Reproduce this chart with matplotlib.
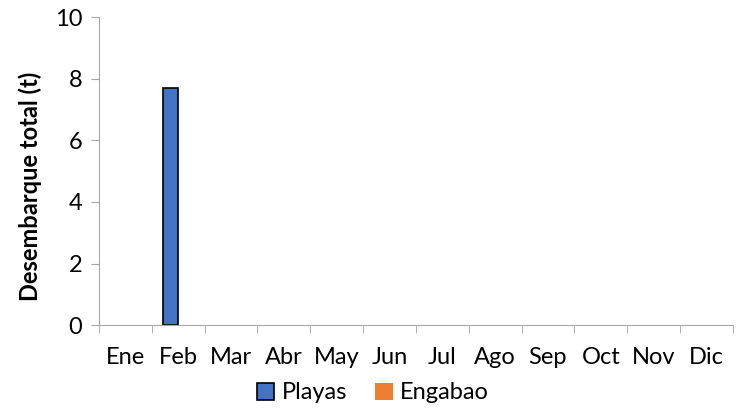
import numpy as np
import matplotlib.pyplot as plt

plt.rcParams['font.family'] = ['Lato', 'DejaVu Sans']

meses = ["Ene", "Feb", "Mar", "Abr", "May", "Jun", "Jul", "Ago", "Sep", "Oct", "Nov", "Dic"]
playas = [0, 7.7, 0, 0, 0, 0, 0, 0, 0, 0, 0, 0]
engabao = [0, 0, 0, 0, 0, 0, 0, 0, 0, 0, 0, 0]

fig = plt.figure(figsize=(7.38, 4.08), dpi=100)
ax = fig.add_axes([0.134, 0.203, 0.859, 0.755])

x = np.arange(len(meses))
w = 0.285
lw_p = [1.2 if v > 0 else 0 for v in playas]
ax.bar(x - w/2, playas, w, color="#4472C4", edgecolor="black", linewidth=lw_p, label="Playas")
ax.bar(x + w/2, engabao, w, color="#ED7D31", linewidth=0, label="Engabao")

ax.set_xlim(-0.5, len(meses) - 0.5)
ax.set_ylim(0, 10)
ax.set_yticks([0, 2, 4, 6, 8, 10])
ax.set_xticks(x)
ax.set_xticklabels(meses)
ax.set_xticks(np.arange(-0.5, len(meses)), minor=True)
ax.tick_params(axis="x", which="major", length=0, pad=16, labelsize=17)
ax.tick_params(axis="x", which="minor", length=6, color="#A6A6A6", direction="out")
ax.tick_params(axis="y", length=6, color="#A6A6A6", labelsize=17, pad=6)

for s in ["top", "right"]:
    ax.spines[s].set_visible(False)
for s in ["left", "bottom"]:
    ax.spines[s].set_color("#A6A6A6")

ax.set_ylabel("Desembarque total (t)", fontsize=17, fontweight="bold", labelpad=9)
ax.yaxis.label.set_y(0.45)

handles, labels = ax.get_legend_handles_labels()
fig.legend(handles, labels, loc="center", bbox_to_anchor=(0.505, 0.037), ncol=2, frameon=False,
           fontsize=17, handlelength=0.75, handleheight=0.75, handletextpad=0.3,
           columnspacing=1.2, borderaxespad=0)
leg = fig.legends[0]
leg.legend_handles[0].set_linewidth(1.2)
leg.legend_handles[0].set_edgecolor("black")

fig.savefig("out.png", dpi=100)
